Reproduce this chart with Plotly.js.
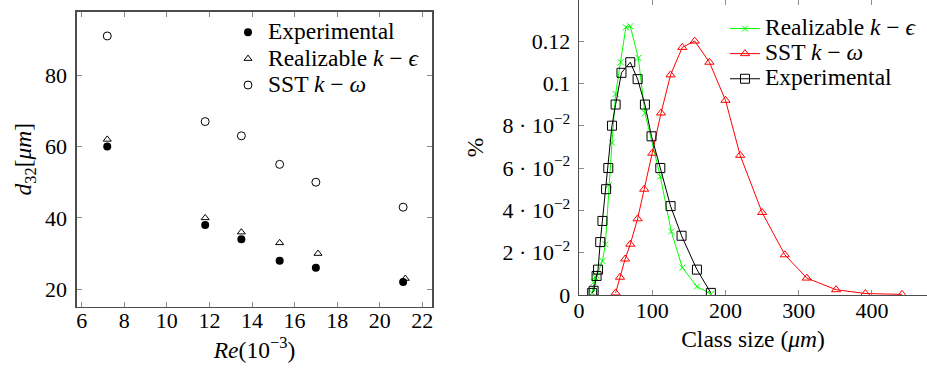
<!DOCTYPE html>
<html>
<head>
<meta charset="utf-8">
<script src="https://cdn.plot.ly/plotly-3.0.1.min.js"></script>
<style>
  html, body { margin: 0; padding: 0; background: #fff; }
  #chart { width: 927px; height: 371px; }
</style>
</head>
<body>
<div id="chart"></div>
<script>
// Sauter mean diameter vs Reynolds number
const reValues = [7.2, 11.8, 13.5, 15.3, 17.0, 21.1];
const reRealizable = [7.2, 11.8, 13.5, 15.3, 17.1, 21.2];
const d32Experimental = [60, 38, 34, 28, 26, 22];
const d32Realizable = [62, 40, 36, 33, 30, 23];
const d32SST = [91, 67, 63, 55, 50, 43];

// Droplet size distributions
const classExperimental = [18, 20, 24, 26, 29, 32, 37, 40, 45, 50, 58, 70, 80, 90, 99, 111, 125, 140, 161, 180];
const pctExperimental = [0.001, 0.002, 0.009, 0.012, 0.025, 0.035, 0.050, 0.060, 0.080, 0.090, 0.105, 0.110, 0.102, 0.090, 0.075, 0.060, 0.042, 0.028, 0.012, 0.001];

const classRealizable = [18, 20, 22, 24, 32, 36, 41, 45, 50, 57, 64, 70, 81, 90, 111, 126, 141, 161, 180];
const pctRealizable = [0.001, 0.006, 0.0085, 0.009, 0.016, 0.024, 0.052, 0.072, 0.095, 0.110, 0.1265, 0.127, 0.112, 0.086, 0.056, 0.030, 0.013, 0.004, 0.0005];

const classSST = [50, 56, 63, 70, 80, 89, 100, 112, 125, 141, 158, 178, 200, 220, 250, 281, 311, 351, 391, 441];
const pctSST = [0.001, 0.0084, 0.017, 0.024, 0.036, 0.050, 0.067, 0.086, 0.104, 0.117, 0.120, 0.110, 0.092, 0.066, 0.039, 0.019, 0.008, 0.0025, 0.0007, 0.0003];

const pctTickVals = [0, 0.02, 0.04, 0.06, 0.08, 0.1, 0.12];
const pctTickText = ['0', '2 · 10<sup>−2</sup>', '4 · 10<sup>−2</sup>', '6 · 10<sup>−2</sup>', '8 · 10<sup>−2</sup>', '0.1', '0.12'];

const FONT = 'Liberation Serif, DejaVu Serif, serif';
const TICK_SIZE = 22;
const TEXT_SIZE = 23.5;
const frame = '#4d4d4d';
const tickCol = '#8c8c8c';

// legend entries keep a tight row pitch while the label itself stays large
const big = s => '<span style="font-size:' + TEXT_SIZE + 'px">' + s + '</span>';

const traces = [
  {
    x: reValues, y: d32Experimental, type: 'scatter', mode: 'markers',
    name: big('Experimental'), xaxis: 'x', yaxis: 'y', legend: 'legend',
    marker: { symbol: 'circle', size: 8, color: '#000' }
  },
  {
    x: reRealizable, y: d32Realizable, type: 'scatter', mode: 'markers',
    name: big('Realizable <i>k</i> − <i>ϵ</i>'), xaxis: 'x', yaxis: 'y', legend: 'legend',
    marker: { symbol: 'triangle-up-open', size: 7, color: '#000', line: { width: 1, color: '#000' } }
  },
  {
    x: reValues, y: d32SST, type: 'scatter', mode: 'markers',
    name: big('SST <i>k</i> − <i>ω</i>'), xaxis: 'x', yaxis: 'y', legend: 'legend',
    marker: { symbol: 'circle-open', size: 8, color: '#000', line: { width: 1, color: '#000' } }
  },
  {
    x: classRealizable, y: pctRealizable, type: 'scatter', mode: 'lines+markers',
    name: big('Realizable <i>k</i> − <i>ϵ</i>'), xaxis: 'x2', yaxis: 'y2', legend: 'legend2',
    line: { color: '#00ff00', width: 1 },
    marker: { symbol: 'x-thin-open', size: 6, color: '#00ff00', line: { width: 1, color: '#00ff00' } }
  },
  {
    x: classSST, y: pctSST, type: 'scatter', mode: 'lines+markers',
    name: big('SST <i>k</i> − <i>ω</i>'), xaxis: 'x2', yaxis: 'y2', legend: 'legend2',
    line: { color: '#ff0000', width: 1 },
    marker: { symbol: 'triangle-up-open', size: 8, color: '#ff0000', line: { width: 1, color: '#ff0000' } }
  },
  {
    x: classExperimental, y: pctExperimental, type: 'scatter', mode: 'lines+markers',
    name: big('Experimental'), xaxis: 'x2', yaxis: 'y2', legend: 'legend2',
    line: { color: '#000', width: 1 },
    marker: { symbol: 'square-open', size: 9, color: '#000', line: { width: 1, color: '#000' } }
  }
];

function axisBase(extra) {
  return Object.assign({
    showgrid: false, zeroline: false,
    showline: true, linecolor: frame, linewidth: 1.3,
    ticks: 'inside', ticklen: 5, tickwidth: 1, tickcolor: tickCol,
    mirror: 'ticks',
    tickfont: { family: FONT, size: TICK_SIZE, color: '#000' }
  }, extra);
}

const titleFont = { family: FONT, size: TEXT_SIZE, color: '#000' };

const layout = {
  width: 927, height: 371,
  margin: { l: 0, r: 0, t: 0, b: 0 },
  paper_bgcolor: '#fff', plot_bgcolor: '#fff',
  font: { family: FONT, size: TICK_SIZE, color: '#000' },
  showlegend: true,
  xaxis: axisBase({
    domain: [76.7 / 927, 432.3 / 927], anchor: 'y',
    range: [5.765, 22.47], tickvals: [6, 8, 10, 12, 14, 16, 18, 20, 22],
    ticklabelstandoff: -6,
    title: { text: '<i>Re</i>(10<sup>−3</sup>)', font: titleFont, standoff: 2 }
  }),
  yaxis: axisBase({
    domain: [64.3 / 371, 359.3 / 371], anchor: 'x',
    range: [15.1, 97.8], tickvals: [20, 40, 60, 80],
    ticklabelstandoff: 4,
    title: { text: '<i>d</i><sub>32</sub>[<i>μm</i>]', font: titleFont, standoff: 6 }
  }),
  xaxis2: axisBase({
    domain: [579 / 927, 1], anchor: 'y2',
    range: [0, 475.1], tickvals: [0, 100, 200, 300, 400],
    ticklabelstandoff: -5,
    title: { text: 'Class size (<i>μm</i>)', font: titleFont, standoff: 8 }
  }),
  yaxis2: axisBase({
    domain: [76 / 371, 1], anchor: 'x2',
    range: [0, 0.1394], tickvals: pctTickVals, ticktext: pctTickText,
    mirror: false,
    ticklabelstandoff: 3,
    title: { text: '%', font: titleFont, standoff: 12 }
  }),
  legend: {
    x: 228 / 927, xanchor: 'left', y: 1 - 14 / 371, yanchor: 'top',
    bgcolor: 'rgba(0,0,0,0)', borderwidth: 0,
    font: { family: FONT, size: 18, color: '#000' },
    tracegroupgap: 0
  },
  legend2: {
    x: 725 / 927, xanchor: 'left', y: 1 - 11 / 371, yanchor: 'top',
    bgcolor: 'rgba(0,0,0,0)', borderwidth: 0,
    font: { family: FONT, size: 17, color: '#000' },
    tracegroupgap: 0
  }
};

Plotly.newPlot('chart', traces, layout, { displayModeBar: false, staticPlot: true });
</script>
</body>
</html>
